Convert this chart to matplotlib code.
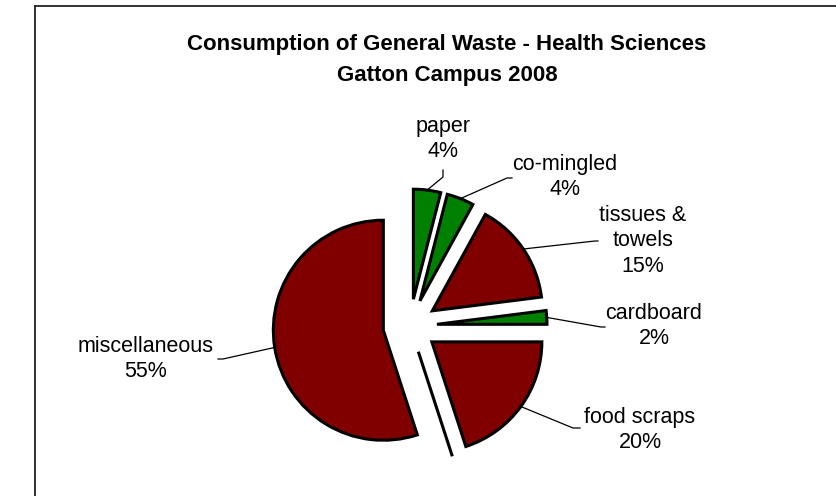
import math
import matplotlib
matplotlib.use("Agg")
import matplotlib.pyplot as plt
from matplotlib.lines import Line2D

plt.rcParams['font.family'] = ['Liberation Sans', 'DejaVu Sans']

# Waste categories (clockwise from 12 o'clock) and their shares in percent
categories = ["paper", "co-mingled", "tissues &\ntowels", "cardboard",
              "food scraps", "", "miscellaneous"]
shares = [4, 4, 15, 2, 20, 0, 55]
title = "Consumption of General Waste - Health Sciences\nGatton Campus 2008"

GREEN = "#008000"
MAROON = "#800000"
colors = [GREEN, GREEN, MAROON, GREEN, MAROON, MAROON, MAROON]

W, H = 836, 496
fig = plt.figure(figsize=(W / 100, H / 100), dpi=100)
ax = fig.add_axes([0, 0, 1, 1])

def py(y):
    """Convert a top-down pixel row into the y-up axes coordinate."""
    return H - y

wedges, _ = ax.pie(shares, colors=colors, startangle=90, counterclock=False,
                   radius=110, center=(410, py(326)), explode=[27] * len(shares),
                   wedgeprops=dict(edgecolor="black", linewidth=2.2))
ax.set_xlim(0, W)
ax.set_ylim(0, H)
ax.set_aspect("equal")
ax.axis("off")

# label anchor (text centre) and leader elbow / end points, in pixels
layout = {
    "paper":         dict(text=(443, 139), path=[(443, 177), (443, 170)]),
    "co-mingled":    dict(text=(565, 177), path=[(507, 178), (512, 178)]),
    "tissues &\ntowels": dict(text=(643, 241), path=[(595, 241), (598, 241)]),
    "cardboard":     dict(text=(654, 326), path=[(601, 327), (605, 327)]),
    "food scraps":   dict(text=(640, 430), path=[(573, 428), (580, 428)]),
    "miscellaneous": dict(text=(146, 359), path=[(223, 359), (218, 359)]),
}

for w, name, val in zip(wedges, categories, shares):
    if not name:
        continue
    mid = math.radians((w.theta1 + w.theta2) / 2)
    cx, cy = w.center
    sx, sy = cx + w.r * math.cos(mid), cy + w.r * math.sin(mid)
    spec = layout[name]
    xs = [sx] + [p[0] for p in spec["path"]]
    ys = [sy] + [py(p[1]) for p in spec["path"]]
    ax.add_line(Line2D(xs, ys, color="black", lw=0.9))
    tx, ty = spec["text"]
    ax.text(tx, py(ty), f"{name}\n{val:.0f}%", ha="center", va="center",
            fontsize=15.5, linespacing=1.3, color="black")

ax.text(447, py(60), title, ha="center", va="center", fontsize=16,
        fontweight="bold", linespacing=1.57)

# chart-area border
fig.add_artist(Line2D([35 / W, 35 / W], [0, py(6) / H], color="#222222",
                      lw=1.3, transform=fig.transFigure))
fig.add_artist(Line2D([35 / W, 1], [py(6) / H, py(6) / H], color="#222222",
                      lw=1.3, transform=fig.transFigure))

fig.savefig("out.png", dpi=100)
